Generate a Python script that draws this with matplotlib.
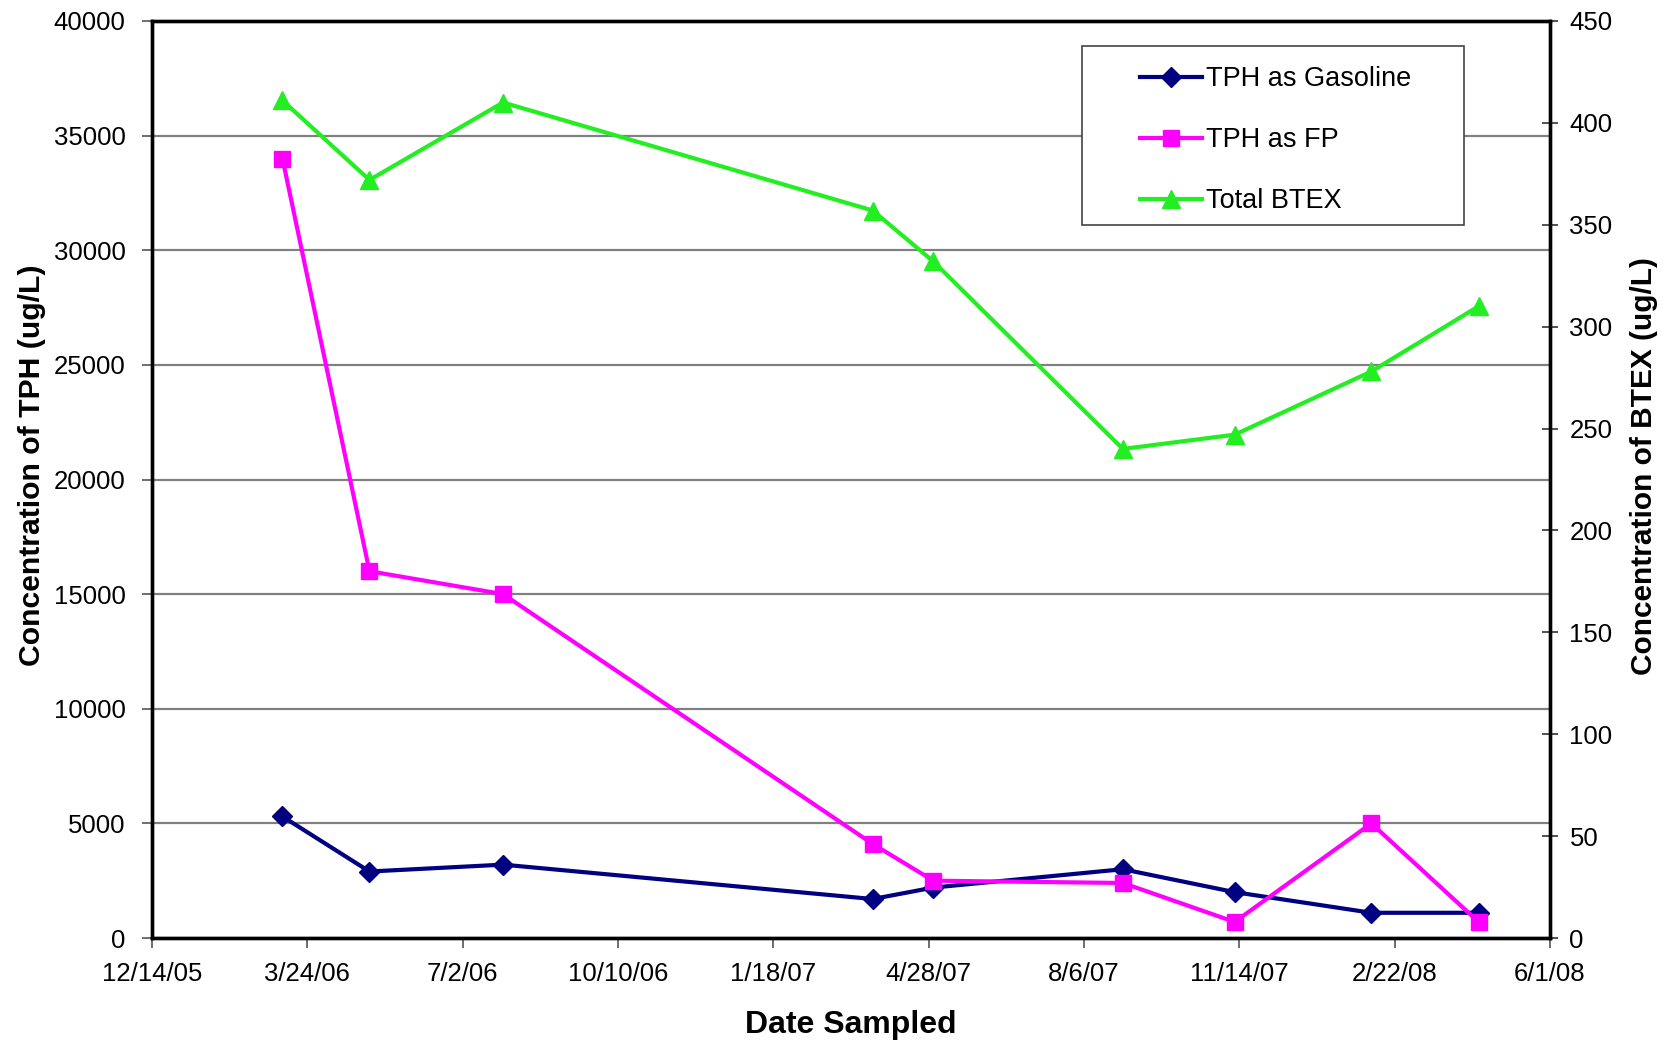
import datetime
import matplotlib
matplotlib.use("Agg")
import matplotlib.pyplot as plt
from matplotlib.patches import Rectangle

plt.rcParams['font.family'] = ['Liberation Sans', 'DejaVu Sans']

# sample dates and concentrations
dates = [datetime.date(2006, 3, 8), datetime.date(2006, 5, 3), datetime.date(2006, 7, 28),
         datetime.date(2007, 3, 23), datetime.date(2007, 5, 1), datetime.date(2007, 8, 31),
         datetime.date(2007, 11, 11), datetime.date(2008, 2, 7), datetime.date(2008, 4, 16)]
tph_gasoline = [5300, 2900, 3200, 1700, 2200, 3000, 2000, 1100, 1100]
tph_fp = [34000, 16000, 15000, 4100, 2500, 2400, 700, 5000, 700]
total_btex = [411, 372, 410, 357, 332, 240, 247, 278, 310]

x_ticks = [datetime.date(2005, 12, 14) + datetime.timedelta(days=100 * i) for i in range(10)]
x_labels = ['12/14/05', '3/24/06', '7/2/06', '10/10/06', '1/18/07',
            '4/28/07', '8/6/07', '11/14/07', '2/22/08', '6/1/08']

W, H = 1663, 1045
fig = plt.figure(figsize=(W / 100, H / 100), dpi=100)
ax1 = fig.add_axes([152 / W, 1 - 938 / H, 1398 / W, 917 / H])
ax2 = ax1.twinx()

navy = '#000080'
pink = '#FF00FF'
green = '#22EE22'

l1, = ax1.plot(dates, tph_gasoline, color=navy, lw=3, marker='D', ms=10, label='TPH as Gasoline')
l2, = ax1.plot(dates, tph_fp, color=pink, lw=3, marker='s', ms=12, label='TPH as FP')
l3, = ax2.plot(dates, total_btex, color=green, lw=3, marker='^', ms=13, label='Total BTEX')

ax1.set_xlim(x_ticks[0], x_ticks[-1])
ax1.set_xticks(x_ticks)
ax1.set_xticklabels(x_labels)
ax1.set_ylim(0, 40000)
ax1.set_yticks(range(0, 40001, 5000))
ax2.set_ylim(0, 450)
ax2.set_yticks(range(0, 451, 50))

ax1.grid(axis='y', color='#808080', lw=1.6)
ax1.set_axisbelow(True)

for ax in (ax1, ax2):
    for s in ax.spines.values():
        s.set_linewidth(2.4)
        s.set_color('black')

ax1.tick_params(axis='x', direction='out', length=7, width=1.2, color='#555555',
                labelsize=18.5, pad=10)
ax1.tick_params(axis='y', direction='out', length=7, width=1.2, color='#555555',
                labelsize=18.5, pad=12)
ax2.tick_params(axis='y', direction='inout', length=12, width=1.2, color='#333333',
                labelsize=18.5, pad=8)

ax1.set_xlabel('Date Sampled', fontsize=23, fontweight='bold')
ax1.set_ylabel('Concentration of TPH (ug/L)', fontsize=21.7, fontweight='bold')
ax2.set_ylabel('Concentration of BTEX (ug/L)', fontsize=21.5, fontweight='bold')
ax1.xaxis.set_label_coords(0.5, (938 - 1010) / 917)
ax1.yaxis.set_label_coords((46 - 152) / 1398, 0.515)
ax2.yaxis.set_label_coords((1630 - 152) / 1398, 0.515)

# legend box
fig.patches.append(Rectangle((1082 / W, 1 - 225 / H), 382 / W, 179 / H,
                             transform=fig.transFigure, fill=True, facecolor='white',
                             edgecolor='#444444', lw=1.2, zorder=5))
leg = fig.legend(handles=[l1, l2, l3], loc='upper left',
                 bbox_to_anchor=(1140 / W, 1 - 66 / H), bbox_transform=fig.transFigure,
                 frameon=False, fontsize=19.5, handlelength=2.3, handletextpad=0.15,
                 labelspacing=1.3, borderpad=0, borderaxespad=0)
leg.set_zorder(6)

fig.savefig('out.png', dpi=100)
